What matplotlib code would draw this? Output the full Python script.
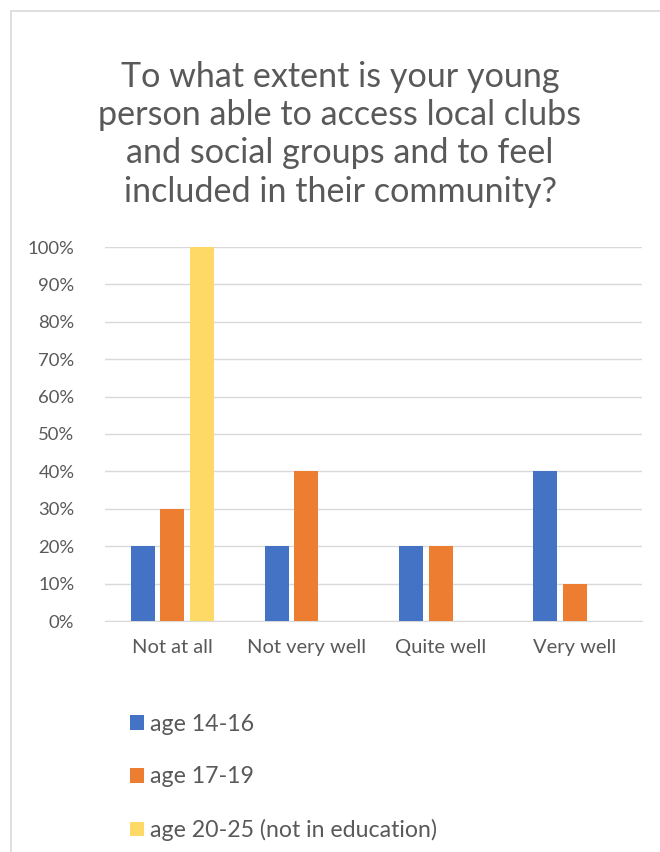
import matplotlib.pyplot as plt
import numpy as np
from matplotlib.patches import Rectangle

categories = ['Not at all', 'Not very well', 'Quite well', 'Very well']
series_names = ['age 14-16', 'age 17-19', 'age 20-25 (not in education)']
age_14_16 = [0.20, 0.20, 0.20, 0.40]
age_17_19 = [0.30, 0.40, 0.20, 0.10]
age_20_25 = [1.00, 0.00, 0.00, 0.00]
colors = ['#4472C4', '#ED7D31', '#FFD966']
title = ('To what extent is your young\nperson able to access local clubs\n'
         'and social groups and to feel\nincluded in their community?')

plt.rcParams['font.family'] = ['Lato', 'DejaVu Sans']
W, H = 660, 852
fig = plt.figure(figsize=(W / 100, H / 100), dpi=100)

# chart frame (only left and top visible in the crop)
fig.patches.append(Rectangle((11 / W, -0.1), 1.2, 1 - 11 / H + 0.1,
                             transform=fig.transFigure, fill=False,
                             edgecolor='#d9d9d9', linewidth=1.2))

ax = fig.add_axes([105 / W, 1 - 621 / H, (642 - 105) / W, (621 - 247) / H])
x = np.arange(len(categories))
w = 0.18
off = 0.22
for i, (vals, name) in enumerate(zip([age_14_16, age_17_19, age_20_25], series_names)):
    ax.bar(x + (i - 1) * off, vals, w, color=colors[i], label=name, zorder=3)

ax.set_xlim(-0.5, 3.5)
ax.set_ylim(0, 1)
ax.set_yticks(np.arange(0, 1.01, 0.1))
ax.set_yticklabels([f'{int(round(v * 100))}%' for v in np.arange(0, 1.01, 0.1)])
ax.set_xticks(x)
ax.set_xticklabels(categories)
ax.grid(axis='y', color='#d9d9d9', linewidth=1, zorder=0)
for s in ['top', 'right', 'left']:
    ax.spines[s].set_visible(False)
ax.spines['bottom'].set_color('#d9d9d9')
ax.tick_params(axis='both', length=0, labelcolor='#595959')
ax.tick_params(axis='x', pad=13, labelsize=14.5)
ax.tick_params(axis='y', pad=22, labelsize=13.3)

fig.text(340 / W, 1 - 61 / H, title, ha='center', va='top', fontsize=24.6,
         color='#595959', linespacing=1.24)

handles, labels = ax.get_legend_handles_labels()
fig.legend(handles, labels, loc='upper left', bbox_to_anchor=(109 / W, 1 - 693 / H),
           frameon=False, fontsize=16.7, labelcolor='#595959', handlelength=0.6,
           handleheight=0.6, handletextpad=0.25, labelspacing=1.36)

fig.savefig('out.png', dpi=100)
